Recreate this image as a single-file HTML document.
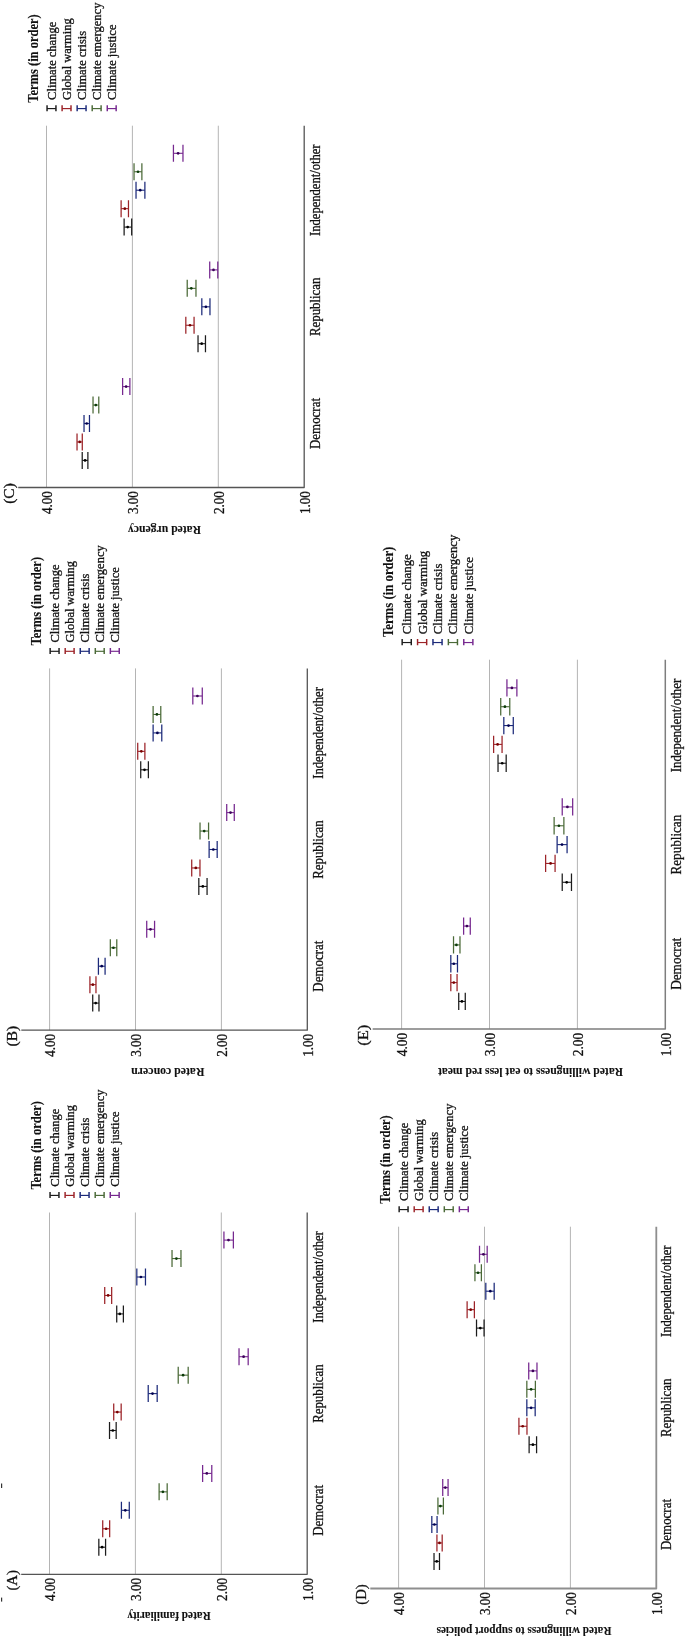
<!DOCTYPE html>
<html><head><meta charset="utf-8"><title>Figure</title>
<style>
html,body{margin:0;padding:0;background:#fff;}
body{width:685px;height:1637px;overflow:hidden;}
svg{display:block;will-change:transform;}
text{font-family:"Liberation Serif", serif;fill:#111;stroke:#111;stroke-width:0.3px;}
text[font-weight=bold]{stroke-width:0.1px;}
</style></head>
<body>
<svg width="685" height="1637" viewBox="0 0 685 1637">
<rect width="685" height="1637" fill="#fff"/>
<line x1="49.5" y1="1212.5" x2="49.5" y2="1574.3" stroke="#b4b4b4" stroke-width="1"/>
<line x1="135.4" y1="1212.5" x2="135.4" y2="1574.3" stroke="#b4b4b4" stroke-width="1"/>
<line x1="221.3" y1="1212.5" x2="221.3" y2="1574.3" stroke="#b4b4b4" stroke-width="1"/>
<path d="M21.2 1574.3H307.2V1212.5" fill="none" stroke="#555555" stroke-width="1.3" stroke-linejoin="round"/>
<path d="M98.83 1538.7V1555.7M105.58 1538.7V1555.7" stroke="#1c1c1c" stroke-width="1.25" fill="none"/>
<path d="M98.83 1547.2H105.58" stroke="#1c1c1c" stroke-width="1.1" fill="none"/>
<circle cx="102.1" cy="1547.2" r="1.35" fill="#000000"/>
<path d="M102.72 1520.25V1537.25M109.67 1520.25V1537.25" stroke="#9c2328" stroke-width="1.25" fill="none"/>
<path d="M102.72 1528.75H109.67" stroke="#9c2328" stroke-width="1.1" fill="none"/>
<circle cx="106.1" cy="1528.75" r="1.35" fill="#7a0000"/>
<path d="M121.42 1501.8V1518.8M129.28 1501.8V1518.8" stroke="#1c2a7a" stroke-width="1.25" fill="none"/>
<path d="M121.42 1510.3H129.28" stroke="#1c2a7a" stroke-width="1.1" fill="none"/>
<circle cx="125.3" cy="1510.3" r="1.35" fill="#000050"/>
<path d="M159.12 1483.35V1500.35M167.18 1483.35V1500.35" stroke="#4b6a38" stroke-width="1.25" fill="none"/>
<path d="M159.12 1491.85H167.18" stroke="#4b6a38" stroke-width="1.1" fill="none"/>
<circle cx="162.9" cy="1491.85" r="1.35" fill="#0a3a08"/>
<path d="M202.62 1464.9V1481.9M211.78 1464.9V1481.9" stroke="#76288f" stroke-width="1.25" fill="none"/>
<path d="M202.62 1473.4H211.78" stroke="#76288f" stroke-width="1.1" fill="none"/>
<circle cx="206.8" cy="1473.4" r="1.35" fill="#3c005a"/>
<path d="M109.53 1422V1439M116.17 1422V1439" stroke="#1c1c1c" stroke-width="1.25" fill="none"/>
<path d="M109.53 1430.5H116.17" stroke="#1c1c1c" stroke-width="1.1" fill="none"/>
<circle cx="112.8" cy="1430.5" r="1.35" fill="#000000"/>
<path d="M113.72 1403.55V1420.55M121.17 1403.55V1420.55" stroke="#9c2328" stroke-width="1.25" fill="none"/>
<path d="M113.72 1412.05H121.17" stroke="#9c2328" stroke-width="1.1" fill="none"/>
<circle cx="117.3" cy="1412.05" r="1.35" fill="#7a0000"/>
<path d="M148.22 1385.1V1402.1M157.18 1385.1V1402.1" stroke="#1c2a7a" stroke-width="1.25" fill="none"/>
<path d="M148.22 1393.6H157.18" stroke="#1c2a7a" stroke-width="1.1" fill="none"/>
<circle cx="152.5" cy="1393.6" r="1.35" fill="#000050"/>
<path d="M178.22 1366.65V1383.65M188.18 1366.65V1383.65" stroke="#4b6a38" stroke-width="1.25" fill="none"/>
<path d="M178.22 1375.15H188.18" stroke="#4b6a38" stroke-width="1.1" fill="none"/>
<circle cx="183.1" cy="1375.15" r="1.35" fill="#0a3a08"/>
<path d="M239.03 1348.2V1365.2M248.18 1348.2V1365.2" stroke="#76288f" stroke-width="1.25" fill="none"/>
<path d="M239.03 1356.7H248.18" stroke="#76288f" stroke-width="1.1" fill="none"/>
<circle cx="243.6" cy="1356.7" r="1.35" fill="#3c005a"/>
<path d="M116.72 1305.4V1322.4M123.38 1305.4V1322.4" stroke="#1c1c1c" stroke-width="1.25" fill="none"/>
<path d="M116.72 1313.9H123.38" stroke="#1c1c1c" stroke-width="1.1" fill="none"/>
<circle cx="119.8" cy="1313.9" r="1.35" fill="#000000"/>
<path d="M104.72 1286.95V1303.95M111.67 1286.95V1303.95" stroke="#9c2328" stroke-width="1.25" fill="none"/>
<path d="M104.72 1295.45H111.67" stroke="#9c2328" stroke-width="1.1" fill="none"/>
<circle cx="108.1" cy="1295.45" r="1.35" fill="#7a0000"/>
<path d="M136.82 1268.5V1285.5M145.47 1268.5V1285.5" stroke="#1c2a7a" stroke-width="1.25" fill="none"/>
<path d="M136.82 1277H145.47" stroke="#1c2a7a" stroke-width="1.1" fill="none"/>
<circle cx="140.9" cy="1277" r="1.35" fill="#000050"/>
<path d="M172.03 1250.05V1267.05M180.97 1250.05V1267.05" stroke="#4b6a38" stroke-width="1.25" fill="none"/>
<path d="M172.03 1258.55H180.97" stroke="#4b6a38" stroke-width="1.1" fill="none"/>
<circle cx="176.4" cy="1258.55" r="1.35" fill="#0a3a08"/>
<path d="M223.93 1231.6V1248.6M233.38 1231.6V1248.6" stroke="#76288f" stroke-width="1.25" fill="none"/>
<path d="M223.93 1240.1H233.38" stroke="#76288f" stroke-width="1.1" fill="none"/>
<circle cx="228.5" cy="1240.1" r="1.35" fill="#3c005a"/>
<text transform="translate(54.8,1577.9) rotate(-90)" text-anchor="end" font-size="13.6" textLength="23" lengthAdjust="spacingAndGlyphs">4.00</text>
<text transform="translate(140.7,1577.9) rotate(-90)" text-anchor="end" font-size="13.6" textLength="23" lengthAdjust="spacingAndGlyphs">3.00</text>
<text transform="translate(226.6,1577.9) rotate(-90)" text-anchor="end" font-size="13.6" textLength="23" lengthAdjust="spacingAndGlyphs">2.00</text>
<text transform="translate(312.5,1577.9) rotate(-90)" text-anchor="end" font-size="13.6" textLength="23" lengthAdjust="spacingAndGlyphs">1.00</text>
<text transform="translate(323.2,1510.3) rotate(-90)" text-anchor="middle" font-size="13.6" textLength="51" lengthAdjust="spacingAndGlyphs">Democrat</text>
<text transform="translate(323.2,1393.6) rotate(-90)" text-anchor="middle" font-size="13.6" textLength="58.4" lengthAdjust="spacingAndGlyphs">Republican</text>
<text transform="translate(323.2,1277) rotate(-90)" text-anchor="middle" font-size="13.6" textLength="91.5" lengthAdjust="spacingAndGlyphs">Independent/other</text>
<text transform="translate(17.1,1590.6) rotate(-90)" font-size="15" textLength="20.6" lengthAdjust="spacingAndGlyphs">(A)</text>
<text transform="translate(169,1612.4) rotate(180)" text-anchor="middle" font-size="13" font-weight="bold" textLength="83.5" lengthAdjust="spacingAndGlyphs">Rated familiarity</text>
<text transform="translate(40.7,1189.6) rotate(-90)" font-size="13.6" font-weight="bold" textLength="88.6" lengthAdjust="spacingAndGlyphs">Terms (in order)</text>
<text transform="translate(58.8,1186.7) rotate(-90)" font-size="12.5">Climate change</text>
<path d="M50.05 1192V1198.1M58.95 1192V1198.1" stroke="#1c1c1c" stroke-width="1.45" fill="none"/>
<path d="M50.05 1195.4H58.95" stroke="#1c1c1c" stroke-width="1.15" fill="none"/>
<text transform="translate(73.88,1186.7) rotate(-90)" font-size="12.5">Global warming</text>
<path d="M65.1 1192V1198.1M74 1192V1198.1" stroke="#9c2328" stroke-width="1.45" fill="none"/>
<path d="M65.1 1195.4H74" stroke="#9c2328" stroke-width="1.15" fill="none"/>
<text transform="translate(88.96,1186.7) rotate(-90)" font-size="12.5">Climate crisis</text>
<path d="M80.15 1192V1198.1M89.05 1192V1198.1" stroke="#1c2a7a" stroke-width="1.45" fill="none"/>
<path d="M80.15 1195.4H89.05" stroke="#1c2a7a" stroke-width="1.15" fill="none"/>
<text transform="translate(104.04,1186.7) rotate(-90)" font-size="12.5">Climate emergency</text>
<path d="M95.2 1192V1198.1M104.1 1192V1198.1" stroke="#4b6a38" stroke-width="1.45" fill="none"/>
<path d="M95.2 1195.4H104.1" stroke="#4b6a38" stroke-width="1.15" fill="none"/>
<text transform="translate(119.12,1186.7) rotate(-90)" font-size="12.5">Climate justice</text>
<path d="M110.25 1192V1198.1M119.15 1192V1198.1" stroke="#76288f" stroke-width="1.45" fill="none"/>
<path d="M110.25 1195.4H119.15" stroke="#76288f" stroke-width="1.15" fill="none"/>
<line x1="49.6" y1="668.4" x2="49.6" y2="1030.2" stroke="#b4b4b4" stroke-width="1"/>
<line x1="135.5" y1="668.4" x2="135.5" y2="1030.2" stroke="#b4b4b4" stroke-width="1"/>
<line x1="221.4" y1="668.4" x2="221.4" y2="1030.2" stroke="#b4b4b4" stroke-width="1"/>
<path d="M21.3 1030.2H307.3V668.4" fill="none" stroke="#555555" stroke-width="1.3" stroke-linejoin="round"/>
<path d="M92.72 994.6V1011.6M98.97 994.6V1011.6" stroke="#1c1c1c" stroke-width="1.25" fill="none"/>
<path d="M92.72 1003.1H98.97" stroke="#1c1c1c" stroke-width="1.1" fill="none"/>
<circle cx="95.7" cy="1003.1" r="1.35" fill="#000000"/>
<path d="M89.92 976.15V993.15M95.97 976.15V993.15" stroke="#9c2328" stroke-width="1.25" fill="none"/>
<path d="M89.92 984.65H95.97" stroke="#9c2328" stroke-width="1.1" fill="none"/>
<circle cx="92.8" cy="984.65" r="1.35" fill="#7a0000"/>
<path d="M98.42 957.7V974.7M105.08 957.7V974.7" stroke="#1c2a7a" stroke-width="1.25" fill="none"/>
<path d="M98.42 966.2H105.08" stroke="#1c2a7a" stroke-width="1.1" fill="none"/>
<circle cx="101.7" cy="966.2" r="1.35" fill="#000050"/>
<path d="M110.33 939.25V956.25M116.78 939.25V956.25" stroke="#4b6a38" stroke-width="1.25" fill="none"/>
<path d="M110.33 947.75H116.78" stroke="#4b6a38" stroke-width="1.1" fill="none"/>
<circle cx="113.4" cy="947.75" r="1.35" fill="#0a3a08"/>
<path d="M146.72 920.8V937.8M154.57 920.8V937.8" stroke="#76288f" stroke-width="1.25" fill="none"/>
<path d="M146.72 929.3H154.57" stroke="#76288f" stroke-width="1.1" fill="none"/>
<circle cx="150.5" cy="929.3" r="1.35" fill="#3c005a"/>
<path d="M198.82 877.9V894.9M207.07 877.9V894.9" stroke="#1c1c1c" stroke-width="1.25" fill="none"/>
<path d="M198.82 886.4H207.07" stroke="#1c1c1c" stroke-width="1.1" fill="none"/>
<circle cx="202.8" cy="886.4" r="1.35" fill="#000000"/>
<path d="M191.72 859.45V876.45M199.97 859.45V876.45" stroke="#9c2328" stroke-width="1.25" fill="none"/>
<path d="M191.72 867.95H199.97" stroke="#9c2328" stroke-width="1.1" fill="none"/>
<circle cx="195.8" cy="867.95" r="1.35" fill="#7a0000"/>
<path d="M209.12 841V858M217.18 841V858" stroke="#1c2a7a" stroke-width="1.25" fill="none"/>
<path d="M209.12 849.5H217.18" stroke="#1c2a7a" stroke-width="1.1" fill="none"/>
<circle cx="213.3" cy="849.5" r="1.35" fill="#000050"/>
<path d="M200.03 822.55V839.55M208.57 822.55V839.55" stroke="#4b6a38" stroke-width="1.25" fill="none"/>
<path d="M200.03 831.05H208.57" stroke="#4b6a38" stroke-width="1.1" fill="none"/>
<circle cx="204.2" cy="831.05" r="1.35" fill="#0a3a08"/>
<path d="M226.72 804.1V821.1M234.28 804.1V821.1" stroke="#76288f" stroke-width="1.25" fill="none"/>
<path d="M226.72 812.6H234.28" stroke="#76288f" stroke-width="1.1" fill="none"/>
<circle cx="230.5" cy="812.6" r="1.35" fill="#3c005a"/>
<path d="M140.72 761.3V778.3M148.38 761.3V778.3" stroke="#1c1c1c" stroke-width="1.25" fill="none"/>
<path d="M140.72 769.8H148.38" stroke="#1c1c1c" stroke-width="1.1" fill="none"/>
<circle cx="144.5" cy="769.8" r="1.35" fill="#000000"/>
<path d="M137.72 742.85V759.85M144.88 742.85V759.85" stroke="#9c2328" stroke-width="1.25" fill="none"/>
<path d="M137.72 751.35H144.88" stroke="#9c2328" stroke-width="1.1" fill="none"/>
<circle cx="141.3" cy="751.35" r="1.35" fill="#7a0000"/>
<path d="M153.12 724.4V741.4M161.78 724.4V741.4" stroke="#1c2a7a" stroke-width="1.25" fill="none"/>
<path d="M153.12 732.9H161.78" stroke="#1c2a7a" stroke-width="1.1" fill="none"/>
<circle cx="157.4" cy="732.9" r="1.35" fill="#000050"/>
<path d="M153.12 705.95V722.95M160.78 705.95V722.95" stroke="#4b6a38" stroke-width="1.25" fill="none"/>
<path d="M153.12 714.45H160.78" stroke="#4b6a38" stroke-width="1.1" fill="none"/>
<circle cx="156.9" cy="714.45" r="1.35" fill="#0a3a08"/>
<path d="M192.82 687.5V704.5M202.28 687.5V704.5" stroke="#76288f" stroke-width="1.25" fill="none"/>
<path d="M192.82 696H202.28" stroke="#76288f" stroke-width="1.1" fill="none"/>
<circle cx="197.4" cy="696" r="1.35" fill="#3c005a"/>
<text transform="translate(54.9,1033.8) rotate(-90)" text-anchor="end" font-size="13.6" textLength="23" lengthAdjust="spacingAndGlyphs">4.00</text>
<text transform="translate(140.8,1033.8) rotate(-90)" text-anchor="end" font-size="13.6" textLength="23" lengthAdjust="spacingAndGlyphs">3.00</text>
<text transform="translate(226.7,1033.8) rotate(-90)" text-anchor="end" font-size="13.6" textLength="23" lengthAdjust="spacingAndGlyphs">2.00</text>
<text transform="translate(312.6,1033.8) rotate(-90)" text-anchor="end" font-size="13.6" textLength="23" lengthAdjust="spacingAndGlyphs">1.00</text>
<text transform="translate(323.3,966.2) rotate(-90)" text-anchor="middle" font-size="13.6" textLength="51" lengthAdjust="spacingAndGlyphs">Democrat</text>
<text transform="translate(323.3,849.5) rotate(-90)" text-anchor="middle" font-size="13.6" textLength="58.4" lengthAdjust="spacingAndGlyphs">Republican</text>
<text transform="translate(323.3,732.9) rotate(-90)" text-anchor="middle" font-size="13.6" textLength="91.5" lengthAdjust="spacingAndGlyphs">Independent/other</text>
<text transform="translate(17.2,1046.5) rotate(-90)" font-size="15" textLength="20.6" lengthAdjust="spacingAndGlyphs">(B)</text>
<text transform="translate(167.85,1068.3) rotate(180)" text-anchor="middle" font-size="13" font-weight="bold" textLength="73.1" lengthAdjust="spacingAndGlyphs">Rated concern</text>
<text transform="translate(40.8,645.5) rotate(-90)" font-size="13.6" font-weight="bold" textLength="88.6" lengthAdjust="spacingAndGlyphs">Terms (in order)</text>
<text transform="translate(58.9,642.6) rotate(-90)" font-size="12.5">Climate change</text>
<path d="M50.15 647.9V654M59.05 647.9V654" stroke="#1c1c1c" stroke-width="1.45" fill="none"/>
<path d="M50.15 651.3H59.05" stroke="#1c1c1c" stroke-width="1.15" fill="none"/>
<text transform="translate(73.98,642.6) rotate(-90)" font-size="12.5">Global warming</text>
<path d="M65.2 647.9V654M74.1 647.9V654" stroke="#9c2328" stroke-width="1.45" fill="none"/>
<path d="M65.2 651.3H74.1" stroke="#9c2328" stroke-width="1.15" fill="none"/>
<text transform="translate(89.06,642.6) rotate(-90)" font-size="12.5">Climate crisis</text>
<path d="M80.25 647.9V654M89.15 647.9V654" stroke="#1c2a7a" stroke-width="1.45" fill="none"/>
<path d="M80.25 651.3H89.15" stroke="#1c2a7a" stroke-width="1.15" fill="none"/>
<text transform="translate(104.14,642.6) rotate(-90)" font-size="12.5">Climate emergency</text>
<path d="M95.3 647.9V654M104.2 647.9V654" stroke="#4b6a38" stroke-width="1.45" fill="none"/>
<path d="M95.3 651.3H104.2" stroke="#4b6a38" stroke-width="1.15" fill="none"/>
<text transform="translate(119.22,642.6) rotate(-90)" font-size="12.5">Climate justice</text>
<path d="M110.35 647.9V654M119.25 647.9V654" stroke="#76288f" stroke-width="1.45" fill="none"/>
<path d="M110.35 651.3H119.25" stroke="#76288f" stroke-width="1.15" fill="none"/>
<line x1="46.5" y1="125.7" x2="46.5" y2="487.5" stroke="#b4b4b4" stroke-width="1"/>
<line x1="132.4" y1="125.7" x2="132.4" y2="487.5" stroke="#b4b4b4" stroke-width="1"/>
<line x1="218.3" y1="125.7" x2="218.3" y2="487.5" stroke="#b4b4b4" stroke-width="1"/>
<path d="M18.2 487.5H304.2V125.7" fill="none" stroke="#555555" stroke-width="1.3" stroke-linejoin="round"/>
<path d="M82.22 451.9V468.9M87.88 451.9V468.9" stroke="#1c1c1c" stroke-width="1.25" fill="none"/>
<path d="M82.22 460.4H87.88" stroke="#1c1c1c" stroke-width="1.1" fill="none"/>
<circle cx="85.1" cy="460.4" r="1.35" fill="#000000"/>
<path d="M77.03 433.45V450.45M82.28 433.45V450.45" stroke="#9c2328" stroke-width="1.25" fill="none"/>
<path d="M77.03 441.95H82.28" stroke="#9c2328" stroke-width="1.1" fill="none"/>
<circle cx="79.7" cy="441.95" r="1.35" fill="#7a0000"/>
<path d="M84.03 415V432M89.47 415V432" stroke="#1c2a7a" stroke-width="1.25" fill="none"/>
<path d="M84.03 423.5H89.47" stroke="#1c2a7a" stroke-width="1.1" fill="none"/>
<circle cx="86.7" cy="423.5" r="1.35" fill="#000050"/>
<path d="M93.03 396.55V413.55M98.78 396.55V413.55" stroke="#4b6a38" stroke-width="1.25" fill="none"/>
<path d="M93.03 405.05H98.78" stroke="#4b6a38" stroke-width="1.1" fill="none"/>
<circle cx="95.8" cy="405.05" r="1.35" fill="#0a3a08"/>
<path d="M122.62 378.1V395.1M129.88 378.1V395.1" stroke="#76288f" stroke-width="1.25" fill="none"/>
<path d="M122.62 386.6H129.88" stroke="#76288f" stroke-width="1.1" fill="none"/>
<circle cx="126.1" cy="386.6" r="1.35" fill="#3c005a"/>
<path d="M198.03 335.2V352.2M205.47 335.2V352.2" stroke="#1c1c1c" stroke-width="1.25" fill="none"/>
<path d="M198.03 343.7H205.47" stroke="#1c1c1c" stroke-width="1.1" fill="none"/>
<circle cx="201.7" cy="343.7" r="1.35" fill="#000000"/>
<path d="M185.82 316.75V333.75M194.07 316.75V333.75" stroke="#9c2328" stroke-width="1.25" fill="none"/>
<path d="M185.82 325.25H194.07" stroke="#9c2328" stroke-width="1.1" fill="none"/>
<circle cx="190" cy="325.25" r="1.35" fill="#7a0000"/>
<path d="M201.82 298.3V315.3M209.97 298.3V315.3" stroke="#1c2a7a" stroke-width="1.25" fill="none"/>
<path d="M201.82 306.8H209.97" stroke="#1c2a7a" stroke-width="1.1" fill="none"/>
<circle cx="205.9" cy="306.8" r="1.35" fill="#000050"/>
<path d="M187.22 279.85V296.85M195.97 279.85V296.85" stroke="#4b6a38" stroke-width="1.25" fill="none"/>
<path d="M187.22 288.35H195.97" stroke="#4b6a38" stroke-width="1.1" fill="none"/>
<circle cx="191.3" cy="288.35" r="1.35" fill="#0a3a08"/>
<path d="M209.72 261.4V278.4M217.78 261.4V278.4" stroke="#76288f" stroke-width="1.25" fill="none"/>
<path d="M209.72 269.9H217.78" stroke="#76288f" stroke-width="1.1" fill="none"/>
<circle cx="213.5" cy="269.9" r="1.35" fill="#3c005a"/>
<path d="M124.12 218.6V235.6M131.68 218.6V235.6" stroke="#1c1c1c" stroke-width="1.25" fill="none"/>
<path d="M124.12 227.1H131.68" stroke="#1c1c1c" stroke-width="1.1" fill="none"/>
<circle cx="127.7" cy="227.1" r="1.35" fill="#000000"/>
<path d="M121.12 200.15V217.15M128.47 200.15V217.15" stroke="#9c2328" stroke-width="1.25" fill="none"/>
<path d="M121.12 208.65H128.47" stroke="#9c2328" stroke-width="1.1" fill="none"/>
<circle cx="124.8" cy="208.65" r="1.35" fill="#7a0000"/>
<path d="M136.03 181.7V198.7M144.88 181.7V198.7" stroke="#1c2a7a" stroke-width="1.25" fill="none"/>
<path d="M136.03 190.2H144.88" stroke="#1c2a7a" stroke-width="1.1" fill="none"/>
<circle cx="140.2" cy="190.2" r="1.35" fill="#000050"/>
<path d="M134.03 163.25V180.25M141.88 163.25V180.25" stroke="#4b6a38" stroke-width="1.25" fill="none"/>
<path d="M134.03 171.75H141.88" stroke="#4b6a38" stroke-width="1.1" fill="none"/>
<circle cx="138" cy="171.75" r="1.35" fill="#0a3a08"/>
<path d="M173.43 144.8V161.8M182.97 144.8V161.8" stroke="#76288f" stroke-width="1.25" fill="none"/>
<path d="M173.43 153.3H182.97" stroke="#76288f" stroke-width="1.1" fill="none"/>
<circle cx="178.1" cy="153.3" r="1.35" fill="#3c005a"/>
<text transform="translate(51.8,491.1) rotate(-90)" text-anchor="end" font-size="13.6" textLength="23" lengthAdjust="spacingAndGlyphs">4.00</text>
<text transform="translate(137.7,491.1) rotate(-90)" text-anchor="end" font-size="13.6" textLength="23" lengthAdjust="spacingAndGlyphs">3.00</text>
<text transform="translate(223.6,491.1) rotate(-90)" text-anchor="end" font-size="13.6" textLength="23" lengthAdjust="spacingAndGlyphs">2.00</text>
<text transform="translate(309.5,491.1) rotate(-90)" text-anchor="end" font-size="13.6" textLength="23" lengthAdjust="spacingAndGlyphs">1.00</text>
<text transform="translate(320.2,423.5) rotate(-90)" text-anchor="middle" font-size="13.6" textLength="51" lengthAdjust="spacingAndGlyphs">Democrat</text>
<text transform="translate(320.2,306.8) rotate(-90)" text-anchor="middle" font-size="13.6" textLength="58.4" lengthAdjust="spacingAndGlyphs">Republican</text>
<text transform="translate(320.2,190.2) rotate(-90)" text-anchor="middle" font-size="13.6" textLength="91.5" lengthAdjust="spacingAndGlyphs">Independent/other</text>
<text transform="translate(14.1,503.8) rotate(-90)" font-size="15" textLength="20.6" lengthAdjust="spacingAndGlyphs">(C)</text>
<text transform="translate(164.5,525.6) rotate(180)" text-anchor="middle" font-size="13" font-weight="bold" textLength="73" lengthAdjust="spacingAndGlyphs">Rated urgency</text>
<text transform="translate(37.7,102.8) rotate(-90)" font-size="13.6" font-weight="bold" textLength="88.6" lengthAdjust="spacingAndGlyphs">Terms (in order)</text>
<text transform="translate(55.8,99.9) rotate(-90)" font-size="12.5">Climate change</text>
<path d="M47.05 105.2V111.3M55.95 105.2V111.3" stroke="#1c1c1c" stroke-width="1.45" fill="none"/>
<path d="M47.05 108.6H55.95" stroke="#1c1c1c" stroke-width="1.15" fill="none"/>
<text transform="translate(70.88,99.9) rotate(-90)" font-size="12.5">Global warming</text>
<path d="M62.1 105.2V111.3M71 105.2V111.3" stroke="#9c2328" stroke-width="1.45" fill="none"/>
<path d="M62.1 108.6H71" stroke="#9c2328" stroke-width="1.15" fill="none"/>
<text transform="translate(85.96,99.9) rotate(-90)" font-size="12.5">Climate crisis</text>
<path d="M77.15 105.2V111.3M86.05 105.2V111.3" stroke="#1c2a7a" stroke-width="1.45" fill="none"/>
<path d="M77.15 108.6H86.05" stroke="#1c2a7a" stroke-width="1.15" fill="none"/>
<text transform="translate(101.04,99.9) rotate(-90)" font-size="12.5">Climate emergency</text>
<path d="M92.2 105.2V111.3M101.1 105.2V111.3" stroke="#4b6a38" stroke-width="1.45" fill="none"/>
<path d="M92.2 108.6H101.1" stroke="#4b6a38" stroke-width="1.15" fill="none"/>
<text transform="translate(116.12,99.9) rotate(-90)" font-size="12.5">Climate justice</text>
<path d="M107.25 105.2V111.3M116.15 105.2V111.3" stroke="#76288f" stroke-width="1.45" fill="none"/>
<path d="M107.25 108.6H116.15" stroke="#76288f" stroke-width="1.15" fill="none"/>
<line x1="398.6" y1="1226.7" x2="398.6" y2="1588.5" stroke="#b4b4b4" stroke-width="1"/>
<line x1="484.5" y1="1226.7" x2="484.5" y2="1588.5" stroke="#b4b4b4" stroke-width="1"/>
<line x1="570.4" y1="1226.7" x2="570.4" y2="1588.5" stroke="#b4b4b4" stroke-width="1"/>
<path d="M370.3 1588.5H656.3V1226.7" fill="none" stroke="#8e8e8e" stroke-width="1.8" stroke-linejoin="round"/>
<path d="M434.02 1552.9V1569.9M439.48 1552.9V1569.9" stroke="#1c1c1c" stroke-width="1.25" fill="none"/>
<path d="M434.02 1561.4H439.48" stroke="#1c1c1c" stroke-width="1.1" fill="none"/>
<circle cx="436.7" cy="1561.4" r="1.35" fill="#000000"/>
<path d="M436.93 1534.45V1551.45M442.18 1534.45V1551.45" stroke="#9c2328" stroke-width="1.25" fill="none"/>
<path d="M436.93 1542.95H442.18" stroke="#9c2328" stroke-width="1.1" fill="none"/>
<circle cx="439.5" cy="1542.95" r="1.35" fill="#7a0000"/>
<path d="M431.82 1516V1533M437.07 1516V1533" stroke="#1c2a7a" stroke-width="1.25" fill="none"/>
<path d="M431.82 1524.5H437.07" stroke="#1c2a7a" stroke-width="1.1" fill="none"/>
<circle cx="434.4" cy="1524.5" r="1.35" fill="#000050"/>
<path d="M437.93 1497.55V1514.55M443.38 1497.55V1514.55" stroke="#4b6a38" stroke-width="1.25" fill="none"/>
<path d="M437.93 1506.05H443.38" stroke="#4b6a38" stroke-width="1.1" fill="none"/>
<circle cx="440.4" cy="1506.05" r="1.35" fill="#0a3a08"/>
<path d="M442.73 1479.1V1496.1M448.07 1479.1V1496.1" stroke="#76288f" stroke-width="1.25" fill="none"/>
<path d="M442.73 1487.6H448.07" stroke="#76288f" stroke-width="1.1" fill="none"/>
<circle cx="445.3" cy="1487.6" r="1.35" fill="#3c005a"/>
<path d="M529.12 1436.2V1453.2M536.58 1436.2V1453.2" stroke="#1c1c1c" stroke-width="1.25" fill="none"/>
<path d="M529.12 1444.7H536.58" stroke="#1c1c1c" stroke-width="1.1" fill="none"/>
<circle cx="532.9" cy="1444.7" r="1.35" fill="#000000"/>
<path d="M518.92 1417.75V1434.75M526.98 1417.75V1434.75" stroke="#9c2328" stroke-width="1.25" fill="none"/>
<path d="M518.92 1426.25H526.98" stroke="#9c2328" stroke-width="1.1" fill="none"/>
<circle cx="522.7" cy="1426.25" r="1.35" fill="#7a0000"/>
<path d="M526.83 1399.3V1416.3M535.17 1399.3V1416.3" stroke="#1c2a7a" stroke-width="1.25" fill="none"/>
<path d="M526.83 1407.8H535.17" stroke="#1c2a7a" stroke-width="1.1" fill="none"/>
<circle cx="531.1" cy="1407.8" r="1.35" fill="#000050"/>
<path d="M526.83 1380.85V1397.85M535.38 1380.85V1397.85" stroke="#4b6a38" stroke-width="1.25" fill="none"/>
<path d="M526.83 1389.35H535.38" stroke="#4b6a38" stroke-width="1.1" fill="none"/>
<circle cx="531.1" cy="1389.35" r="1.35" fill="#0a3a08"/>
<path d="M528.73 1362.4V1379.4M536.98 1362.4V1379.4" stroke="#76288f" stroke-width="1.25" fill="none"/>
<path d="M528.73 1370.9H536.98" stroke="#76288f" stroke-width="1.1" fill="none"/>
<circle cx="532.9" cy="1370.9" r="1.35" fill="#3c005a"/>
<path d="M476.52 1319.6V1336.6M484.07 1319.6V1336.6" stroke="#1c1c1c" stroke-width="1.25" fill="none"/>
<path d="M476.52 1328.1H484.07" stroke="#1c1c1c" stroke-width="1.1" fill="none"/>
<circle cx="480.3" cy="1328.1" r="1.35" fill="#000000"/>
<path d="M467.12 1301.15V1318.15M474.38 1301.15V1318.15" stroke="#9c2328" stroke-width="1.25" fill="none"/>
<path d="M467.12 1309.65H474.38" stroke="#9c2328" stroke-width="1.1" fill="none"/>
<circle cx="470.7" cy="1309.65" r="1.35" fill="#7a0000"/>
<path d="M485.82 1282.7V1299.7M494.18 1282.7V1299.7" stroke="#1c2a7a" stroke-width="1.25" fill="none"/>
<path d="M485.82 1291.2H494.18" stroke="#1c2a7a" stroke-width="1.1" fill="none"/>
<circle cx="490.3" cy="1291.2" r="1.35" fill="#000050"/>
<path d="M474.93 1264.25V1281.25M481.38 1264.25V1281.25" stroke="#4b6a38" stroke-width="1.25" fill="none"/>
<path d="M474.93 1272.75H481.38" stroke="#4b6a38" stroke-width="1.1" fill="none"/>
<circle cx="478" cy="1272.75" r="1.35" fill="#0a3a08"/>
<path d="M479.52 1245.8V1262.8M487.18 1245.8V1262.8" stroke="#76288f" stroke-width="1.25" fill="none"/>
<path d="M479.52 1254.3H487.18" stroke="#76288f" stroke-width="1.1" fill="none"/>
<circle cx="483.4" cy="1254.3" r="1.35" fill="#3c005a"/>
<text transform="translate(403.9,1592.1) rotate(-90)" text-anchor="end" font-size="13.6" textLength="23" lengthAdjust="spacingAndGlyphs">4.00</text>
<text transform="translate(489.8,1592.1) rotate(-90)" text-anchor="end" font-size="13.6" textLength="23" lengthAdjust="spacingAndGlyphs">3.00</text>
<text transform="translate(575.7,1592.1) rotate(-90)" text-anchor="end" font-size="13.6" textLength="23" lengthAdjust="spacingAndGlyphs">2.00</text>
<text transform="translate(661.6,1592.1) rotate(-90)" text-anchor="end" font-size="13.6" textLength="23" lengthAdjust="spacingAndGlyphs">1.00</text>
<text transform="translate(671.3,1524.5) rotate(-90)" text-anchor="middle" font-size="13.6" textLength="51" lengthAdjust="spacingAndGlyphs">Democrat</text>
<text transform="translate(671.3,1407.8) rotate(-90)" text-anchor="middle" font-size="13.6" textLength="58.4" lengthAdjust="spacingAndGlyphs">Republican</text>
<text transform="translate(671.3,1291.2) rotate(-90)" text-anchor="middle" font-size="13.6" textLength="91.5" lengthAdjust="spacingAndGlyphs">Independent/other</text>
<text transform="translate(366.2,1604.8) rotate(-90)" font-size="15" textLength="20.6" lengthAdjust="spacingAndGlyphs">(D)</text>
<text transform="translate(524.05,1626.6) rotate(180)" text-anchor="middle" font-size="13" font-weight="bold" textLength="174.9" lengthAdjust="spacingAndGlyphs">Rated willingness to support policies</text>
<text transform="translate(389.8,1203.8) rotate(-90)" font-size="13.6" font-weight="bold" textLength="88.6" lengthAdjust="spacingAndGlyphs">Terms (in order)</text>
<text transform="translate(407.9,1200.9) rotate(-90)" font-size="12.5">Climate change</text>
<path d="M399.15 1206.2V1212.3M408.05 1206.2V1212.3" stroke="#1c1c1c" stroke-width="1.45" fill="none"/>
<path d="M399.15 1209.6H408.05" stroke="#1c1c1c" stroke-width="1.15" fill="none"/>
<text transform="translate(422.98,1200.9) rotate(-90)" font-size="12.5">Global warming</text>
<path d="M414.2 1206.2V1212.3M423.1 1206.2V1212.3" stroke="#9c2328" stroke-width="1.45" fill="none"/>
<path d="M414.2 1209.6H423.1" stroke="#9c2328" stroke-width="1.15" fill="none"/>
<text transform="translate(438.06,1200.9) rotate(-90)" font-size="12.5">Climate crisis</text>
<path d="M429.25 1206.2V1212.3M438.15 1206.2V1212.3" stroke="#1c2a7a" stroke-width="1.45" fill="none"/>
<path d="M429.25 1209.6H438.15" stroke="#1c2a7a" stroke-width="1.15" fill="none"/>
<text transform="translate(453.14,1200.9) rotate(-90)" font-size="12.5">Climate emergency</text>
<path d="M444.3 1206.2V1212.3M453.2 1206.2V1212.3" stroke="#4b6a38" stroke-width="1.45" fill="none"/>
<path d="M444.3 1209.6H453.2" stroke="#4b6a38" stroke-width="1.15" fill="none"/>
<text transform="translate(468.22,1200.9) rotate(-90)" font-size="12.5">Climate justice</text>
<path d="M459.35 1206.2V1212.3M468.25 1206.2V1212.3" stroke="#76288f" stroke-width="1.45" fill="none"/>
<path d="M459.35 1209.6H468.25" stroke="#76288f" stroke-width="1.15" fill="none"/>
<line x1="401.6" y1="659.7" x2="401.6" y2="1029.1" stroke="#b4b4b4" stroke-width="1"/>
<line x1="489.5" y1="659.7" x2="489.5" y2="1029.1" stroke="#b4b4b4" stroke-width="1"/>
<line x1="577.4" y1="659.7" x2="577.4" y2="1029.1" stroke="#b4b4b4" stroke-width="1"/>
<path d="M372.64 1029.1H665.3V659.7" fill="none" stroke="#7e7e7e" stroke-width="1.5" stroke-linejoin="round"/>
<path d="M458.73 992.75V1010.11M465.27 992.75V1010.11" stroke="#1c1c1c" stroke-width="1.25" fill="none"/>
<path d="M458.73 1001.43H465.27" stroke="#1c1c1c" stroke-width="1.1" fill="none"/>
<circle cx="461.9" cy="1001.43" r="1.35" fill="#000000"/>
<path d="M450.82 973.91V991.27M457.07 973.91V991.27" stroke="#9c2328" stroke-width="1.25" fill="none"/>
<path d="M450.82 982.59H457.07" stroke="#9c2328" stroke-width="1.1" fill="none"/>
<circle cx="453.8" cy="982.59" r="1.35" fill="#7a0000"/>
<path d="M450.82 955.08V972.43M457.48 955.08V972.43" stroke="#1c2a7a" stroke-width="1.25" fill="none"/>
<path d="M450.82 963.76H457.48" stroke="#1c2a7a" stroke-width="1.1" fill="none"/>
<circle cx="453.8" cy="963.76" r="1.35" fill="#000050"/>
<path d="M453.52 936.24V953.6M459.98 936.24V953.6" stroke="#4b6a38" stroke-width="1.25" fill="none"/>
<path d="M453.52 944.92H459.98" stroke="#4b6a38" stroke-width="1.1" fill="none"/>
<circle cx="456.4" cy="944.92" r="1.35" fill="#0a3a08"/>
<path d="M463.62 917.4V934.76M470.27 917.4V934.76" stroke="#76288f" stroke-width="1.25" fill="none"/>
<path d="M463.62 926.08H470.27" stroke="#76288f" stroke-width="1.1" fill="none"/>
<circle cx="466.9" cy="926.08" r="1.35" fill="#3c005a"/>
<path d="M562.23 873.6V890.96M571.48 873.6V890.96" stroke="#1c1c1c" stroke-width="1.25" fill="none"/>
<path d="M562.23 882.28H571.48" stroke="#1c1c1c" stroke-width="1.1" fill="none"/>
<circle cx="566.7" cy="882.28" r="1.35" fill="#000000"/>
<path d="M545.62 854.76V872.12M555.08 854.76V872.12" stroke="#9c2328" stroke-width="1.25" fill="none"/>
<path d="M545.62 863.44H555.08" stroke="#9c2328" stroke-width="1.1" fill="none"/>
<circle cx="550.6" cy="863.44" r="1.35" fill="#7a0000"/>
<path d="M557.12 835.93V853.28M567.08 835.93V853.28" stroke="#1c2a7a" stroke-width="1.25" fill="none"/>
<path d="M557.12 844.61H567.08" stroke="#1c2a7a" stroke-width="1.1" fill="none"/>
<circle cx="562" cy="844.61" r="1.35" fill="#000050"/>
<path d="M554.12 817.09V834.45M563.88 817.09V834.45" stroke="#4b6a38" stroke-width="1.25" fill="none"/>
<path d="M554.12 825.77H563.88" stroke="#4b6a38" stroke-width="1.1" fill="none"/>
<circle cx="558.9" cy="825.77" r="1.35" fill="#0a3a08"/>
<path d="M562.23 798.25V815.61M572.67 798.25V815.61" stroke="#76288f" stroke-width="1.25" fill="none"/>
<path d="M562.23 806.93H572.67" stroke="#76288f" stroke-width="1.1" fill="none"/>
<circle cx="567.4" cy="806.93" r="1.35" fill="#3c005a"/>
<path d="M498.02 754.55V771.91M506.18 754.55V771.91" stroke="#1c1c1c" stroke-width="1.25" fill="none"/>
<path d="M498.02 763.23H506.18" stroke="#1c1c1c" stroke-width="1.1" fill="none"/>
<circle cx="502.2" cy="763.23" r="1.35" fill="#000000"/>
<path d="M493.62 735.72V753.07M502.07 735.72V753.07" stroke="#9c2328" stroke-width="1.25" fill="none"/>
<path d="M493.62 744.39H502.07" stroke="#9c2328" stroke-width="1.1" fill="none"/>
<circle cx="497.6" cy="744.39" r="1.35" fill="#7a0000"/>
<path d="M503.82 716.88V734.24M513.27 716.88V734.24" stroke="#1c2a7a" stroke-width="1.25" fill="none"/>
<path d="M503.82 725.56H513.27" stroke="#1c2a7a" stroke-width="1.1" fill="none"/>
<circle cx="508.5" cy="725.56" r="1.35" fill="#000050"/>
<path d="M500.73 698.04V715.4M509.77 698.04V715.4" stroke="#4b6a38" stroke-width="1.25" fill="none"/>
<path d="M500.73 706.72H509.77" stroke="#4b6a38" stroke-width="1.1" fill="none"/>
<circle cx="504.9" cy="706.72" r="1.35" fill="#0a3a08"/>
<path d="M506.93 679.2V696.56M516.88 679.2V696.56" stroke="#76288f" stroke-width="1.25" fill="none"/>
<path d="M506.93 687.88H516.88" stroke="#76288f" stroke-width="1.1" fill="none"/>
<circle cx="511.9" cy="687.88" r="1.35" fill="#3c005a"/>
<text transform="translate(407.02,1032.78) rotate(-90)" text-anchor="end" font-size="13.92" textLength="23.48" lengthAdjust="spacingAndGlyphs">4.00</text>
<text transform="translate(494.92,1032.78) rotate(-90)" text-anchor="end" font-size="13.92" textLength="23.48" lengthAdjust="spacingAndGlyphs">3.00</text>
<text transform="translate(582.83,1032.78) rotate(-90)" text-anchor="end" font-size="13.92" textLength="23.48" lengthAdjust="spacingAndGlyphs">2.00</text>
<text transform="translate(670.73,1032.78) rotate(-90)" text-anchor="end" font-size="13.92" textLength="23.48" lengthAdjust="spacingAndGlyphs">1.00</text>
<text transform="translate(680.68,963.76) rotate(-90)" text-anchor="middle" font-size="13.92" textLength="52.07" lengthAdjust="spacingAndGlyphs">Democrat</text>
<text transform="translate(680.68,844.61) rotate(-90)" text-anchor="middle" font-size="13.92" textLength="59.63" lengthAdjust="spacingAndGlyphs">Republican</text>
<text transform="translate(680.68,725.56) rotate(-90)" text-anchor="middle" font-size="13.92" textLength="93.42" lengthAdjust="spacingAndGlyphs">Independent/other</text>
<text transform="translate(368.45,1045.74) rotate(-90)" font-size="15.35" textLength="21.03" lengthAdjust="spacingAndGlyphs">(E)</text>
<text transform="translate(530.55,1068) rotate(180)" text-anchor="middle" font-size="13.3" font-weight="bold" textLength="185.1" lengthAdjust="spacingAndGlyphs">Rated willingness to eat less red meat</text>
<text transform="translate(392.59,637.12) rotate(-90)" font-size="13.92" font-weight="bold" textLength="90.46" lengthAdjust="spacingAndGlyphs">Terms (in order)</text>
<text transform="translate(411.12,634.16) rotate(-90)" font-size="12.79">Climate change</text>
<path d="M402.16 639.07V645.3M411.27 639.07V645.3" stroke="#1c1c1c" stroke-width="1.45" fill="none"/>
<path d="M402.16 642.54H411.27" stroke="#1c1c1c" stroke-width="1.15" fill="none"/>
<text transform="translate(426.55,634.16) rotate(-90)" font-size="12.79">Global warming</text>
<path d="M417.56 639.07V645.3M426.67 639.07V645.3" stroke="#9c2328" stroke-width="1.45" fill="none"/>
<path d="M417.56 642.54H426.67" stroke="#9c2328" stroke-width="1.15" fill="none"/>
<text transform="translate(441.98,634.16) rotate(-90)" font-size="12.79">Climate crisis</text>
<path d="M432.96 639.07V645.3M442.07 639.07V645.3" stroke="#1c2a7a" stroke-width="1.45" fill="none"/>
<path d="M432.96 642.54H442.07" stroke="#1c2a7a" stroke-width="1.15" fill="none"/>
<text transform="translate(457.41,634.16) rotate(-90)" font-size="12.79">Climate emergency</text>
<path d="M448.36 639.07V645.3M457.47 639.07V645.3" stroke="#4b6a38" stroke-width="1.45" fill="none"/>
<path d="M448.36 642.54H457.47" stroke="#4b6a38" stroke-width="1.15" fill="none"/>
<text transform="translate(472.84,634.16) rotate(-90)" font-size="12.79">Climate justice</text>
<path d="M463.77 639.07V645.3M472.87 639.07V645.3" stroke="#76288f" stroke-width="1.45" fill="none"/>
<path d="M463.77 642.54H472.87" stroke="#76288f" stroke-width="1.15" fill="none"/>
<rect x="1" y="1483.5" width="1.2" height="4.5" fill="#333"/>
<rect x="1" y="1597.6" width="1.2" height="4" fill="#333"/>
</svg>
</body></html>
